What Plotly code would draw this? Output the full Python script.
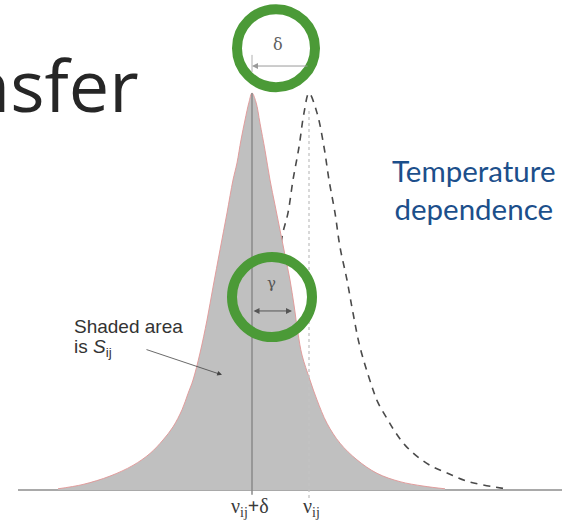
import plotly.graph_objects as go

# ---- data (frequency in arbitrary units, intensity normalised to peak = 1)
shaded_freq = [58, 83, 110, 133, 150, 163, 173, 182, 188, 193, 200, 207, 213, 220, 227, 233, 237, 241, 245, 249, 252,
               256, 260, 265, 270, 275, 280, 285, 290, 294, 298, 302, 310, 317, 327, 340, 357, 377, 400, 423, 445]
shaded_int = [0.003, 0.014, 0.035, 0.062, 0.092, 0.126, 0.159, 0.202, 0.243, 0.277, 0.345, 0.428, 0.511, 0.605, 0.698,
              0.781, 0.824, 0.882, 0.932, 0.977, 1.000,
              0.977, 0.924, 0.856, 0.781, 0.718, 0.655, 0.592, 0.529, 0.466, 0.395, 0.340, 0.277, 0.227, 0.168, 0.118,
              0.076, 0.042, 0.021, 0.010, 0.003]

dashed_freq = [115, 180, 218, 247, 265, 278, 282, 288, 293, 299, 304, 309, 317, 324, 329, 335, 340, 347, 353, 360, 372,
               378, 387, 395, 405, 418, 433, 447, 467, 503]
dashed_int = [0.003, 0.030, 0.076, 0.194, 0.360, 0.529, 0.637, 0.698, 0.781, 0.864, 0.950, 1.000, 0.950, 0.864, 0.781,
              0.698, 0.612, 0.529, 0.446, 0.360, 0.260, 0.220, 0.180, 0.147, 0.113, 0.083, 0.058, 0.043, 0.022, 0.004]

baseline_freq = [18, 562]
baseline_int = [0, 0]

shifted_center = 252     # nu_ij + delta
line_center = 309        # nu_ij
gamma_edge = 292         # half width edge
tick_labels = ["ν<sub>ij</sub><b>+</b>δ", "ν<sub>ij</sub>"]
tick_positions = [shifted_center, line_center]

fig = go.Figure()

# dashed (unshifted) profile
fig.add_trace(go.Scatter(x=dashed_freq, y=dashed_int, mode="lines",
                         line=dict(color="#4a4a4a", width=1.6, dash="7px,6px", shape="spline", smoothing=1.0),
                         hoverinfo="skip"))
# baseline
fig.add_trace(go.Scatter(x=baseline_freq, y=baseline_int, mode="lines",
                         line=dict(color="#8c8c8c", width=1.6), hoverinfo="skip"))
# shaded (shifted) profile
fig.add_trace(go.Scatter(x=shaded_freq, y=shaded_int, mode="lines", fill="tozeroy",
                         fillcolor="#c0c0c0",
                         line=dict(color="rgba(225,150,150,0.9)", width=1, shape="spline", smoothing=1.0),
                         hoverinfo="skip"))

shapes = [
    # solid centre line of shifted profile
    dict(type="line", x0=shifted_center, x1=shifted_center, y0=-0.012, y1=1.0, line=dict(color="#8a8a8a", width=1.5)),
    # dotted line at nu_ij
    dict(type="line", x0=line_center, x1=line_center, y0=-0.02, y1=0.96, line=dict(color="#c4c4c4", width=1.3, dash="dot")),
    # small tick for delta arrow
    dict(type="line", x0=shifted_center, x1=shifted_center, y0=1.053, y1=1.096, line=dict(color="#b0b0b0", width=1)),
    # green rings
    dict(type="circle", xref="x", yref="y", xsizemode="pixel", ysizemode="pixel",
         xanchor=276, yanchor=1.113, x0=-39, x1=39, y0=-39, y1=39,
         line=dict(color="#4b9a37", width=10)),
    dict(type="circle", xref="x", yref="y", xsizemode="pixel", ysizemode="pixel",
         xanchor=272, yanchor=0.486, x0=-40, x1=40, y0=-40, y1=40,
         line=dict(color="#4b9a37", width=10)),
]

annotations = [
    # delta arrow
    dict(x=shifted_center, y=1.068, ax=line_center, ay=1.068, axref="x", ayref="y", xref="x", yref="y",
         text="", showarrow=True, arrowhead=2, arrowsize=1.2, arrowwidth=1, arrowcolor="#9a9a9a", standoff=0),
    dict(x=278, y=1.121, text="δ", showarrow=False, font=dict(family="DejaVu Serif", size=16, color="#5f5f5f")),
    # gamma arrow
    dict(x=gamma_edge, y=0.451, ax=shifted_center, ay=0.451, axref="x", ayref="y", xref="x", yref="y",
         text="", showarrow=True, arrowhead=2, arrowside="end+start", arrowsize=1.2, arrowwidth=1,
         arrowcolor="#555555", standoff=0, startstandoff=0),
    dict(x=271, y=0.521, text="γ", showarrow=False, font=dict(family="DejaVu Serif", size=15, color="#555555")),
    # shaded area label
    dict(x=72, y=0.413, xanchor="left", text="Shaded area", showarrow=False,
         font=dict(family="Liberation Sans", size=19, color="#333333")),
    dict(x=72, y=0.358, xanchor="left", text="is <i>S</i><sub>ij</sub>", showarrow=False,
         font=dict(family="Liberation Sans", size=19, color="#333333")),
    dict(x=222, y=0.290, ax=145, ay=0.355, axref="x", ayref="y", xref="x", yref="y",
         text="", showarrow=True, arrowhead=2, arrowsize=1.2, arrowwidth=0.8, arrowcolor="#444444", standoff=0),
    # temperature dependence
    dict(x=473, y=0.757, text="Temperature<br>dependence", showarrow=False, align="center",
         font=dict(family="Lato", size=29.5, color="#1c4f8b")),
    # slide title fragment
    dict(x=141, y=1.023, xanchor="right", text="Transfer", showarrow=False,
         font=dict(family="Open Sans", size=72, color="#262626")),
]
for xp, lab in zip(tick_positions, tick_labels):
    annotations.append(dict(x=xp, y=-0.045, text=lab, showarrow=False, xshift=-2 if "+" in lab else 2,
                            font=dict(family="Liberation Serif", size=20, color="#3a3a3a")))

fig.update_layout(
    width=562, height=526, margin=dict(l=0, r=0, t=0, b=0),
    paper_bgcolor="white", plot_bgcolor="white", showlegend=False,
    xaxis=dict(range=[0, 562], visible=False, fixedrange=True),
    yaxis=dict(range=[-0.0907, 1.2343], visible=False, fixedrange=True),
    shapes=shapes, annotations=annotations,
)

fig.write_html("out.html", config={"displayModeBar": False},
               post_script="document.body.style.margin='0';document.body.style.overflow='hidden';")
